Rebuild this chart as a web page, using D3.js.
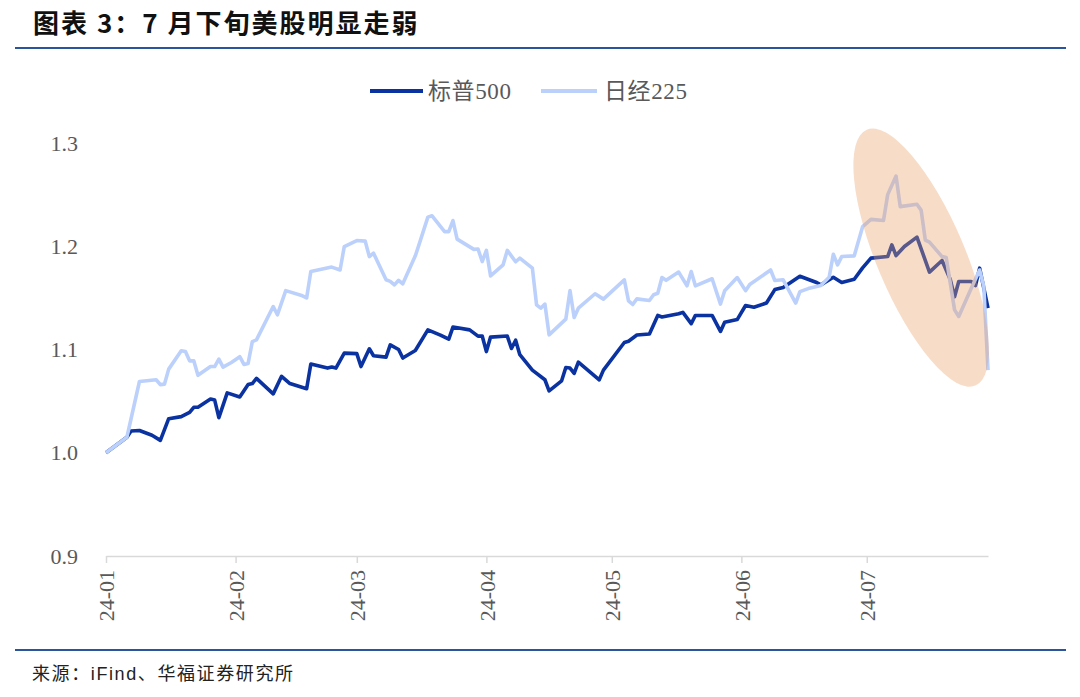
<!DOCTYPE html>
<html>
<head>
<meta charset="utf-8">
<script src="https://cdn.jsdelivr.net/npm/d3@7/dist/d3.min.js"></script>
<style>
  html, body { margin: 0; padding: 0; background: #fff; }
  svg { display: block; }
</style>
</head>
<body>
<svg id="chart" width="1080" height="697"></svg>
<script>
// ---------- data ----------
const seriesNames = ["标普500", "日经225"];
const xTickLabels = ["24-01", "24-02", "24-03", "24-04", "24-05", "24-06", "24-07"];
const yTicks = [0.9, 1.0, 1.1, 1.2, 1.3];

const spxDates = ["01-01","01-06","01-07","01-09","01-12","01-14","01-16","01-19","01-21","01-22","01-23","01-26","01-27","01-28","01-30",
  "02-02","02-04","02-05","02-06","02-10","02-12","02-14","02-18","02-19","02-23","02-24","02-25","02-27",
  "03-01","03-02","03-04","03-05","03-08","03-09","03-11","03-12","03-15","03-18","03-21","03-23","03-24","03-28","03-30","03-31",
  "04-01","04-02","04-06","04-07","04-08","04-09","04-12","04-15","04-16","04-19","04-20","04-21","04-22","04-23","04-28","04-29",
  "05-04","05-05","05-07","05-10","05-12","05-13","05-17","05-18","05-20","05-21","05-25","05-27","05-28","05-31",
  "06-02","06-04","06-07","06-09","06-11","06-15","06-19","06-20","06-23","06-25","06-28","06-30",
  "07-02","07-06","07-07","07-08","07-10","07-13","07-16","07-19","07-21","07-22","07-23","07-26","07-27","07-28","07-30"];
const spxValues = [1.000,1.015,1.021,1.0216,1.017,1.012,1.033,1.035,1.039,1.044,1.044,1.052,1.051,1.034,1.058,
  1.054,1.066,1.067,1.072,1.057,1.074,1.067,1.062,1.086,1.082,1.083,1.082,1.0965,
  1.096,1.0835,1.1007,1.094,1.0926,1.1045,1.100,1.0917,1.099,1.119,1.114,1.110,1.1217,1.119,1.113,1.113,
  1.098,1.112,1.113,1.101,1.109,1.095,1.080,1.0707,1.060,1.0697,1.0826,1.082,1.077,1.0878,1.0707,1.080,
  1.1068,1.108,1.114,1.115,1.133,1.1315,1.1346,1.136,1.125,1.133,1.133,1.1175,1.1265,1.129,
  1.1426,1.141,1.145,1.158,1.160,1.171,1.1649,1.1626,1.170,1.1649,1.168,1.179,
  1.1885,1.190,1.2013,1.191,1.1997,1.2088,1.175,1.1862,1.1675,1.151,1.1658,1.1658,1.162,1.1788,1.140];

const nkDates = ["01-01","01-06","01-09","01-13","01-14","01-15","01-16","01-19","01-20","01-21","01-22","01-23","01-26","01-27","01-28","01-29","01-31",
  "02-02","02-03","02-04","02-05","02-06","02-10","02-11","02-13","02-17","02-18","02-19","02-24","02-26","02-27",
  "03-01","03-03","03-04","03-05","03-08","03-09","03-10","03-11","03-12","03-15","03-16","03-18","03-19","03-22","03-23","03-24","03-25","03-29","03-30","03-31",
  "04-01","04-02","04-05","04-06","04-08","04-09","04-12","04-13","04-14","04-15","04-16","04-20","04-21","04-22","04-23","04-27","04-29",
  "05-04","05-05","05-06","05-07","05-10","05-11","05-12","05-13","05-14","05-17","05-19","05-20","05-21","05-25","05-27","05-28","05-31",
  "06-02","06-03","06-08","06-09","06-11","06-14","06-15","06-17","06-20","06-22","06-23","06-24","06-25","06-28","06-30",
  "07-02","07-05","07-06","07-08","07-09","07-13","07-14","07-15","07-16","07-19","07-20","07-22","07-23","07-26","07-28","07-29","07-30"];
const nkValues = [1.000,1.015,1.069,1.0707,1.066,1.0665,1.081,1.0987,1.098,1.089,1.089,1.075,1.0835,1.0835,1.0907,1.083,1.0874,
  1.093,1.0855,1.0865,1.1077,1.1093,1.1416,1.1336,1.157,1.152,1.150,1.1755,1.1798,1.177,1.1997,
  1.2055,1.205,1.190,1.1933,1.1675,1.166,1.1626,1.167,1.1636,1.1907,1.203,1.2282,1.2295,1.2142,1.2142,1.2249,1.2069,1.197,1.1973,1.1852,
  1.196,1.1713,1.182,1.196,1.185,1.1885,1.1788,1.1433,1.140,1.144,1.1142,1.1294,1.157,1.131,1.140,1.154,1.1488,
  1.1675,1.147,1.1436,1.149,1.1475,1.153,1.1545,1.1697,1.167,1.175,1.1617,1.1755,1.1617,1.1685,1.144,1.1568,1.1697,
  1.157,1.163,1.177,1.1668,1.1675,1.145,1.156,1.159,1.162,1.170,1.1923,1.182,1.190,1.1907,1.219,
  1.226,1.2249,1.250,1.268,1.2384,1.2407,1.235,1.206,1.204,1.190,1.189,1.1384,1.132,1.1594,1.177,1.161,1.080];

// highlight annotation (centre in data terms)
const highlightDate = "07-14";
const highlightValue = 1.189;

// ---------- setup ----------
const parse = d3.timeParse("%Y-%m-%d");
const toDate = s => parse("2024-" + s);
const spx = spxDates.map((d, i) => ({ date: toDate(d), value: spxValues[i] }));
const nk = nkDates.map((d, i) => ({ date: toDate(d), value: nkValues[i] }));

const svg = d3.select("#chart");
const plot = { left: 106, right: 988, top: 143, bottom: 556 };

const x = d3.scaleTime()
  .domain([toDate("01-01"), toDate("07-30")])
  .range([plot.left, plot.right]);
const y = d3.scaleLinear()
  .domain([0.9, 1.3])
  .range([plot.bottom, plot.top]);

const serif = "'Liberation Serif','Times New Roman','Noto Sans CJK SC',serif";
const darkBlue = "#0a32a0";
const lightBlue = "#bcd0fc";
const rule = "#2a559c";

// ---------- title ----------
svg.append("text")
  .attr("x", 33).attr("y", 33)
  .attr("font-family", "'Noto Sans CJK SC','DejaVu Sans',sans-serif")
  .attr("font-weight", 700)
  .attr("font-size", 26)
  .attr("letter-spacing", 2)
  .attr("fill", "#111")
  .text("图表 3：7 月下旬美股明显走弱");

svg.append("line")
  .attr("x1", 15).attr("x2", 1066).attr("y1", 48).attr("y2", 48)
  .attr("stroke", rule).attr("stroke-width", 2);

// ---------- footer ----------
svg.append("line")
  .attr("x1", 15).attr("x2", 1066).attr("y1", 650).attr("y2", 650)
  .attr("stroke", rule).attr("stroke-width", 2);

svg.append("text")
  .attr("x", 32).attr("y", 680)
  .attr("font-family", "'Liberation Sans','Noto Sans CJK SC',sans-serif")
  .attr("font-size", 18)
  .attr("letter-spacing", 1.6)
  .attr("fill", "#222")
  .text("来源：iFind、华福证券研究所");

// ---------- legend ----------
const legend = [
  { name: seriesNames[0], color: darkBlue, x1: 370, x2: 423, tx: 428 },
  { name: seriesNames[1], color: lightBlue, x1: 541, x2: 597, tx: 604 }
];
const lg = svg.append("g");
legend.forEach(l => {
  lg.append("line")
    .attr("x1", l.x1).attr("x2", l.x2).attr("y1", 91).attr("y2", 91)
    .attr("stroke", l.color).attr("stroke-width", 4);
  lg.append("text")
    .attr("x", l.tx).attr("y", 99)
    .attr("font-family", serif)
    .attr("font-size", 23)
    .attr("letter-spacing", 0.6)
    .attr("fill", "#595959")
    .text(l.name);
});

// ---------- axes ----------
const xAxis = d3.axisBottom(x)
  .tickValues(d3.timeMonth.range(toDate("01-01"), toDate("07-02")))
  .tickFormat((d, i) => xTickLabels[i])
  .tickSize(7)
  .tickSizeOuter(0);

const gx = svg.append("g")
  .attr("transform", `translate(0,${plot.bottom})`)
  .call(xAxis);
gx.select(".domain").attr("stroke", "#d9d9d9").attr("stroke-width", 1.5);
gx.selectAll(".tick line").attr("stroke", "#d9d9d9").attr("stroke-width", 1.5);
gx.selectAll(".tick text")
  .attr("font-family", serif)
  .attr("font-size", 22)
  .attr("fill", "#595959")
  .attr("transform", "rotate(-90)")
  .attr("text-anchor", "end")
  .attr("x", -14)
  .attr("y", 0)
  .attr("dy", "0.35em");

const yAxis = d3.axisLeft(y)
  .tickValues(yTicks)
  .tickFormat(d3.format(".1f"))
  .tickSize(0)
  .tickPadding(0);
const gy = svg.append("g")
  .attr("transform", `translate(78,0)`)
  .call(yAxis);
gy.select(".domain").remove();
gy.selectAll(".tick text")
  .attr("font-family", serif)
  .attr("font-size", 22)
  .attr("fill", "#595959");

// ---------- lines ----------
const line = d3.line().x(d => x(d.date)).y(d => y(d.value));

svg.append("path").datum(spx)
  .attr("d", line)
  .attr("fill", "none")
  .attr("stroke", darkBlue)
  .attr("stroke-width", 3.6)
  .attr("stroke-linejoin", "round");

svg.append("path").datum(nk)
  .attr("d", line)
  .attr("fill", "none")
  .attr("stroke", lightBlue)
  .attr("stroke-width", 3.6)
  .attr("stroke-linejoin", "round");

// ---------- highlight ellipse ----------
const cx = x(toDate(highlightDate)), cy = y(highlightValue);
svg.append("ellipse")
  .attr("cx", 0).attr("cy", 0)
  .attr("rx", 44).attr("ry", 139)
  .attr("transform", `translate(${cx},${cy}) rotate(-23)`)
  .attr("fill", "#e99e66")
  .attr("fill-opacity", 0.36);
</script>
</body>
</html>
